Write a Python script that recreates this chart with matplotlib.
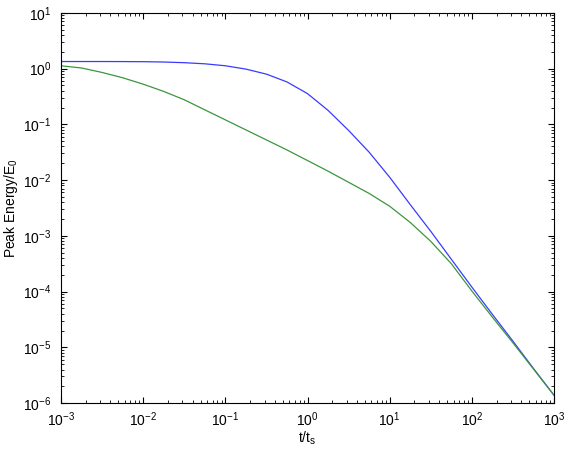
import numpy as np
import matplotlib
matplotlib.use("Agg")
import matplotlib.pyplot as plt

plt.rcParams['font.family'] = ['Liberation Sans', 'DejaVu Sans']
plt.rcParams['mathtext.default'] = 'regular'

# t/t_s sample points (log10) and log10 of peak energy
log_t = [-3.0, -2.75, -2.5, -2.25, -2.0, -1.75, -1.5, -1.25, -1.0, -0.75,
         -0.5, -0.25, 0.0, 0.25, 0.5, 0.75, 1.0, 1.25, 1.5, 1.75,
         2.0, 2.25, 2.5, 2.75, 3.0]
log_blue = [0.126, 0.126, 0.126, 0.125, 0.123, 0.117, 0.105, 0.085, 0.05, -0.01,
            -0.10, -0.24, -0.45, -0.75, -1.11, -1.50, -1.95, -2.44, -2.92, -3.42,
            -3.92, -4.41, -4.89, -5.38, -5.86]
log_green = [0.05, 0.01, -0.07, -0.165, -0.28, -0.41, -0.56, -0.74, -0.92, -1.10,
             -1.28, -1.46, -1.65, -1.84, -2.04, -2.24, -2.47, -2.76, -3.10, -3.50,
             -3.99, -4.46, -4.92, -5.39, -5.86]

t = 10.0 ** np.array(log_t)
e_blue = 10.0 ** np.array(log_blue)
e_green = 10.0 ** np.array(log_green)

fig = plt.figure(figsize=(5.7, 4.57), dpi=100)
ax = fig.add_axes([0.107, 0.118, 0.865, 0.854])

ax.loglog(t, e_blue, color='#3a3aff', lw=0.9)
ax.loglog(t, e_green, color='#3c963c', lw=0.9)

ax.set_xlim(1e-3, 1e3)
ax.set_ylim(1e-6, 1e1)
ax.set_xlabel('t/t$_s$', fontsize=10, labelpad=1)
ax.set_ylabel('Peak Energy/E$_0$', fontsize=10, labelpad=2)

ax.tick_params(which='both', direction='in', top=True, right=True, labelsize=10)
ax.tick_params(axis='y', which='major', pad=7)
ax.tick_params(axis='x', which='major', pad=5)
ax.tick_params(which='major', length=4)
ax.tick_params(which='minor', length=2)
for s in ax.spines.values():
    s.set_linewidth(0.8)

fig.savefig('out.png', dpi=100)
